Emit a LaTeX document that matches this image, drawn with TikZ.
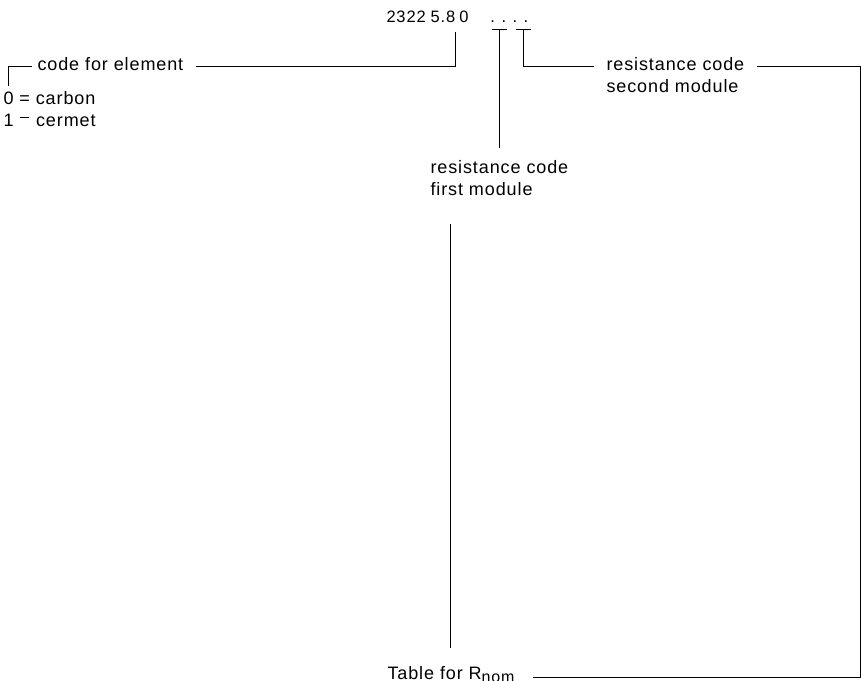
\documentclass[tikz,border=0pt]{standalone}
\usepackage{fontspec}
\setmainfont{Liberation Sans}[LetterSpace=5]
\usetikzlibrary{calc}

\tikzset{
  lbl/.style={inner sep=0pt, anchor=base west, font=\fontsize{18}{22}\selectfont},
}
\newcommand{\onebar}{\makebox[0.6em]{\raisebox{0.42em}{\rule{0.48em}{0.06em}}}}

\begin{document}
\begin{tikzpicture}[x=1pt, y=-1pt, line width=1pt]
  \useasboundingbox (0,0) rectangle (861,680);
  % type number
  \node[lbl, font=\fontsize{16.5}{20}\selectfont] (num) at (386,22)
    {2322\hskip5pt 5.8\hskip4pt 0\hskip22pt.\hskip6.5pt.\hskip6.5pt.\hskip6.5pt.};
  % labels
  \node[lbl] (elem)   at (37,70)  {code for element};
  \node[lbl] (carbon) at (3,104)  {0 = carbon};
  \node[lbl] (cermet) at (3,126)  {1 \onebar{} cermet};
  \node[lbl] (rsec)   at (606,70) {resistance code};
  \node[lbl] (rsecb)  at (606,92) {second module};
  \node[lbl] (rfirst) at (430,173) {resistance code};
  \node[lbl] (rfirstb) at (430,195) {first module};
  \node[lbl] (table)  at (387,679) {Table for R\raisebox{-0.2em}{\fontsize{16}{16}\selectfont nom}};
  % tap points under the number
  \coordinate (m0) at (455,32);
  \coordinate (m1) at (499,29);
  \coordinate (m2) at (523,29);
  \coordinate (b0) at (8,86);
  \coordinate (rc) at (860,677);
  % T bars
  \foreach \m in {m1,m2}{ \draw ($(\m)+(-7.5,0)$) -- ($(\m)+(7.5,0)$); }
  % code for element
  \draw (b0) |- ([xshift=-5pt,yshift=-3pt]elem.west);
  \draw ([xshift=12pt,yshift=-3pt]elem.east) -| (m0);
  % first module
  \draw (m1) -- ($(m1 |- rfirst.north)+(0,-11)$);
  \draw ($(table.north |- rfirstb.south)+(0,28)$) -- ($(table.north)+(0,-17)$);
  % second module, round to the table
  \draw (m2) |- ([xshift=-12pt,yshift=-3pt]rsec.west);
  \draw ([xshift=12pt,yshift=-3pt]rsec.east) -| (rc) -- ($(rc -| table.east)+(18,0)$);
\end{tikzpicture}
\end{document}
